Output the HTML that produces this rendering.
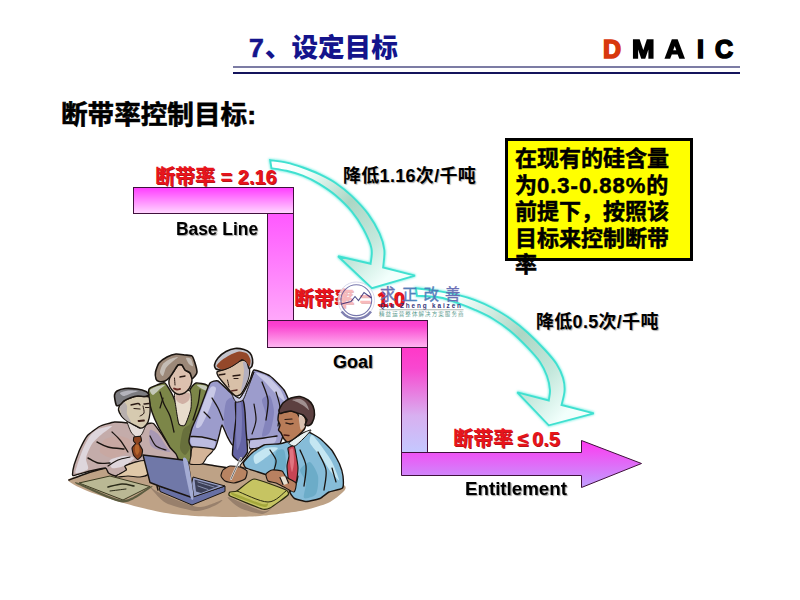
<!DOCTYPE html>
<html lang="zh">
<head>
<meta charset="utf-8">
<title>7、设定目标</title>
<style>
html,body{margin:0;padding:0;background:#fff;}
body{width:800px;height:600px;position:relative;overflow:hidden;font-family:"Liberation Sans","Noto Sans CJK SC",sans-serif;}
.t{position:absolute;white-space:nowrap;line-height:1;font-weight:bold;}
#title{left:249px;top:35px;font-size:26.6px;color:#14148c;font-weight:900;}
.dm{position:absolute;top:37px;font-size:25px;line-height:1;font-weight:bold;color:#000;-webkit-text-stroke:1.6px #000;transform-origin:0 0;}
.dm.d{color:#d8380c;-webkit-text-stroke-color:#d8380c;}
.hl1{position:absolute;left:233px;top:66px;width:507px;height:2px;background:#7c7ca4;}
.hl2{position:absolute;left:233px;top:72px;width:507px;height:2px;background:#14145c;}
#sub{left:61px;top:101.5px;font-size:26.6px;color:#000;font-weight:700;-webkit-text-stroke:0.6px #000;}
.red{color:#e8141c;font-size:20px;text-shadow:1px 1px 0 #b81418;}
.blk{color:#000;font-size:18px;letter-spacing:0.3px;text-shadow:1px 1px 1px #b0b0b0;}
.en{color:#000;font-size:18px;text-shadow:1px 1px 1px #a0a0a0;transform-origin:0 0;}
#note{position:absolute;left:505px;top:138px;width:187.5px;height:123.3px;background:#ffff00;border:3px solid #000;box-sizing:border-box;}
#notetxt{position:absolute;left:515px;top:146.3px;width:180px;font-size:22px;line-height:26.5px;font-weight:700;-webkit-text-stroke:0.5px #000;color:#000;white-space:nowrap;}
#notetxt i{font-style:normal;letter-spacing:1px;}
svg{position:absolute;left:0;top:0;}
</style>
</head>
<body>
<div class="t" id="title"><span style="-webkit-text-stroke:0.7px #14148c;letter-spacing:1px">7</span>、设定目标</div>
<span class="dm d" style="left:603px">D</span><span class="dm" style="left:632px;transform:scaleX(1.08)">M</span><span class="dm" style="left:665px;transform:scaleX(1.08)">A</span><span class="dm" style="left:697px">I</span><span class="dm" style="left:715px">C</span>
<div class="hl1"></div><div class="hl2"></div>
<div class="t" id="sub">断带率控制目标:</div>

<svg width="800" height="600" viewBox="0 0 800 600">
<defs>
<linearGradient id="g1" x1="0" y1="0" x2="0" y2="1"><stop offset="0" stop-color="#ff3cff"/><stop offset="1" stop-color="#ffd8ff"/></linearGradient>
<linearGradient id="g2" x1="0" y1="0" x2="0" y2="1"><stop offset="0" stop-color="#ff58ff"/><stop offset="1" stop-color="#ffa8fa"/></linearGradient>
<linearGradient id="g3" x1="0" y1="0" x2="0" y2="1"><stop offset="0" stop-color="#fa38cc"/><stop offset="0.2" stop-color="#fa44d0"/><stop offset="1" stop-color="#ffb8f2"/></linearGradient>
<linearGradient id="g4" x1="0" y1="0" x2="0" y2="1"><stop offset="0" stop-color="#ff38c8"/><stop offset="0.2" stop-color="#f848d0"/><stop offset="0.65" stop-color="#d8b0f0"/><stop offset="1" stop-color="#c4c8ff"/></linearGradient>
<linearGradient id="g5" x1="0" y1="0" x2="0" y2="1"><stop offset="0" stop-color="#ff38f0"/><stop offset="1" stop-color="#c0a0ff"/></linearGradient>
<linearGradient id="ga1" gradientUnits="userSpaceOnUse" x1="272" y1="164" x2="385" y2="280"><stop offset="0" stop-color="#ffffff"/><stop offset="0.18" stop-color="#f4fffc"/><stop offset="0.5" stop-color="#acd6c4"/><stop offset="0.78" stop-color="#c4e8dc"/><stop offset="1" stop-color="#f2fffc"/></linearGradient>
<linearGradient id="ga2" gradientUnits="userSpaceOnUse" x1="418" y1="292" x2="562" y2="418"><stop offset="0" stop-color="#ffffff"/><stop offset="0.18" stop-color="#f4fffc"/><stop offset="0.55" stop-color="#acd6c4"/><stop offset="0.8" stop-color="#c4e8dc"/><stop offset="1" stop-color="#f2fffc"/></linearGradient>
<filter id="glow" x="-10%" y="-10%" width="120%" height="120%"><feGaussianBlur stdDeviation="1.3"/></filter>
</defs>
<g stroke="#40103c" stroke-width="1">
<rect x="267.5" y="213.5" width="26" height="107" fill="url(#g2)"/>
<rect x="133.5" y="187.5" width="160" height="26" fill="url(#g1)"/>
<rect x="401.5" y="347.5" width="26" height="105" fill="url(#g4)"/>
<rect x="267.5" y="320.5" width="160" height="27" fill="url(#g3)"/>
<path d="M401.500 452.500H581.500V440.500L641.500 463.500L581.500 487.500V475.500H401.500Z" fill="url(#g5)"/>
</g>
<g id="people" stroke-linejoin="round">
<path d="M68.0 480.0C68.0 478.0 80.2 475.5 85.0 474.0C89.8 472.5 99.1 469.5 106.0 468.0C112.9 466.5 132.0 463.0 140.0 462.0C148.0 461.0 163.5 459.9 170.0 460.0C176.5 460.1 185.1 462.1 192.0 463.0C198.9 463.9 217.8 466.1 225.0 467.0C232.2 467.9 241.9 469.1 250.0 470.0C258.1 470.9 280.0 473.0 290.0 474.0C300.0 475.0 323.1 476.5 330.0 478.0C336.9 479.5 343.4 484.2 345.0 486.0C346.6 487.8 345.1 489.9 343.0 492.0C340.9 494.1 333.4 500.6 328.0 503.0C322.6 505.4 308.5 509.4 300.0 511.0C291.5 512.6 268.8 515.2 260.0 516.0C251.2 516.8 238.1 517.0 230.0 517.0C221.9 517.0 203.8 516.6 195.0 516.0C186.2 515.4 169.4 513.8 160.0 512.0C150.6 510.2 129.4 504.8 120.0 502.0C110.6 499.2 91.5 492.8 85.0 490.0C78.5 487.2 68.0 482.0 68.0 480.0Z" fill="#bea286"/>
<path d="M69.0 480.0C72.2 478.8 81.8 475.0 88.0 473.0C94.2 471.0 103.0 468.8 106.0 468.0" fill="none" stroke="#1a1410" stroke-width="1.5" stroke-linecap="round"/>
<path d="M193.0 462.5C195.8 462.9 204.5 464.2 210.0 465.0C215.5 465.8 223.3 467.1 226.0 467.5" fill="none" stroke="#1a1410" stroke-width="1.5" stroke-linecap="round"/>
<path d="M150.0 487.0C149.2 485.8 154.0 490.5 160.0 493.0C166.0 495.5 190.2 506.1 198.0 507.0C205.8 507.9 220.0 500.1 222.0 500.0C224.0 499.9 217.2 504.6 214.0 506.0C210.8 507.4 202.0 511.4 196.0 511.0C190.0 510.6 171.8 506.0 166.0 503.0C160.2 500.0 150.8 488.2 150.0 487.0Z" fill="#98806c"/>
<path d="M228.0 497.0C230.8 497.4 256.5 509.6 262.0 511.0C267.5 512.4 272.0 507.6 272.0 508.0C272.0 508.4 266.0 514.0 262.0 514.0C258.0 514.0 244.2 510.1 240.0 508.0C235.8 505.9 225.2 496.6 228.0 497.0Z" fill="#98806c"/>
<path d="M149.0 389.0C149.8 387.6 155.4 385.6 157.0 385.0C158.6 384.4 163.4 381.9 165.0 383.0C166.6 384.1 171.8 393.5 173.0 396.0C174.2 398.5 176.4 405.2 177.0 408.0C177.6 410.8 178.2 422.4 179.0 424.0C179.8 425.6 183.9 425.8 185.0 424.0C186.1 422.2 189.5 409.4 190.0 406.0C190.5 402.6 189.4 392.3 190.0 390.0C190.6 387.7 194.3 383.5 196.0 383.0C197.7 382.5 205.6 384.1 207.0 385.0C208.4 385.9 210.2 390.3 210.0 392.0C209.8 393.7 206.2 399.2 205.0 402.0C203.8 404.8 199.3 416.6 198.0 420.0C196.7 423.4 192.7 433.0 192.0 436.0C191.3 439.0 191.2 447.3 191.0 450.0C190.8 452.7 191.5 461.9 190.0 463.0C188.5 464.1 178.2 462.9 176.0 461.0C173.8 459.1 169.8 447.5 168.0 444.0C166.2 440.5 159.6 429.2 158.0 426.0C156.4 422.8 152.9 414.7 152.0 412.0C151.1 409.3 149.3 401.3 149.0 399.0C148.7 396.7 148.2 390.4 149.0 389.0Z" fill="#7c8648" stroke="#1a1410" stroke-width="1.4"/>
<path d="M150.0 390.0C150.6 388.9 156.1 386.6 158.0 386.0C159.9 385.4 164.8 384.6 165.0 385.0C165.2 385.4 161.5 387.8 160.0 389.0C158.5 390.2 154.2 394.9 153.0 395.0C151.8 395.1 149.4 391.1 150.0 390.0Z" fill="#c4c8b8"/>
<path d="M197.0 385.0C197.5 384.6 204.6 385.2 206.0 386.0C207.4 386.8 208.5 390.6 208.0 391.0C207.5 391.4 203.4 389.8 202.0 389.0C200.6 388.2 196.5 385.4 197.0 385.0Z" fill="#c4c8b8"/>
<path d="M183.0 430.0C184.2 427.0 188.4 426.2 190.0 424.0C191.6 421.8 195.6 411.0 196.0 412.0C196.4 413.0 193.8 427.5 193.0 432.0C192.2 436.5 191.0 445.1 190.0 448.0C189.0 450.9 186.2 455.0 185.0 455.0C183.8 455.0 180.2 451.1 180.0 448.0C179.8 444.9 181.8 433.0 183.0 430.0Z" fill="#68703c"/>
<path d="M175.0 393.0C176.4 391.3 188.4 389.5 190.0 391.0C191.6 392.5 191.5 404.6 191.0 408.0C190.5 411.4 186.2 423.4 185.0 425.0C183.8 426.6 179.9 425.7 179.0 424.0C178.1 422.3 176.4 411.1 176.0 408.0C175.6 404.9 173.6 394.7 175.0 393.0Z" fill="#e8dccc" stroke="#1a1410" stroke-width="1"/>
<path d="M176.0 395.0C177.5 394.0 187.4 392.4 189.0 393.0C190.6 393.6 189.8 398.6 189.0 400.0C188.2 401.4 184.5 403.9 183.0 404.0C181.5 404.1 177.9 402.1 177.0 401.0C176.1 399.9 174.5 396.0 176.0 395.0Z" fill="#d0b0a4"/>
<path d="M170.0 377.0C170.5 375.7 173.2 372.2 174.0 371.0C174.8 369.8 177.2 365.6 178.0 365.0C178.8 364.4 181.3 364.5 182.0 365.0C182.7 365.5 184.2 369.2 185.0 370.0C185.8 370.8 189.3 372.2 190.0 373.0C190.7 373.8 191.9 376.8 192.0 378.0C192.1 379.2 191.5 383.7 191.0 385.0C190.5 386.3 187.9 390.1 187.0 391.0C186.1 391.9 183.0 393.7 182.0 394.0C181.0 394.3 178.0 394.4 177.0 394.0C176.0 393.6 172.8 391.0 172.0 390.0C171.2 389.0 169.2 385.3 169.0 384.0C168.8 382.7 169.5 378.3 170.0 377.0Z" fill="#dcc0ae" stroke="#1a1410" stroke-width="1.4"/>
<path d="M156.0 379.0C155.7 378.1 155.2 373.6 155.5 372.0C155.8 370.4 157.8 364.5 159.0 363.0C160.2 361.5 165.3 357.9 167.0 357.0C168.7 356.1 174.2 354.2 176.0 354.0C177.8 353.8 183.4 354.8 185.0 355.0C186.6 355.2 191.0 355.2 192.0 356.0C193.0 356.8 194.5 361.4 195.0 363.0C195.5 364.6 197.0 370.7 197.0 372.0C197.0 373.3 195.5 375.4 195.0 376.0C194.5 376.6 192.5 378.8 192.0 378.5C191.5 378.2 190.7 373.9 190.0 373.0C189.3 372.1 185.8 370.8 185.0 370.0C184.2 369.2 182.7 365.5 182.0 365.0C181.3 364.5 178.8 364.4 178.0 365.0C177.2 365.6 174.8 369.8 174.0 371.0C173.2 372.2 170.9 376.0 170.0 377.0C169.1 378.0 166.1 380.6 165.0 381.0C163.9 381.4 159.9 381.7 159.0 381.5C158.1 381.3 156.3 379.9 156.0 379.0Z" fill="#9c8878" stroke="#1a1410" stroke-width="1.6"/>
<path d="M160.0 372.0C160.0 370.5 161.8 365.6 163.0 364.0C164.2 362.4 168.1 359.9 170.0 359.0C171.9 358.1 177.8 356.6 178.0 357.0C178.2 357.4 173.5 360.6 172.0 362.0C170.5 363.4 167.1 366.2 166.0 368.0C164.9 369.8 163.8 375.5 163.0 376.0C162.2 376.5 160.0 373.5 160.0 372.0Z" fill="#c4bcb4"/>
<path d="M186.0 358.0C186.2 357.4 190.1 358.0 191.0 359.0C191.9 360.0 193.2 365.4 193.0 366.0C192.8 366.6 189.9 365.0 189.0 364.0C188.1 363.0 185.8 358.6 186.0 358.0Z" fill="#c4bcb4"/>
<path d="M174.5 378.0C174.6 379.2 174.9 383.8 175.0 385.0" fill="none" stroke="#2a1a14" stroke-width="1" stroke-linecap="round"/>
<path d="M180.0 377.0C180.8 376.8 184.2 376.2 185.0 376.0" fill="none" stroke="#2a1a14" stroke-width="1.4" stroke-linecap="round"/>
<path d="M174.0 388.5C174.5 388.7 176.0 389.4 177.0 389.5C178.0 389.6 179.5 389.1 180.0 389.0" fill="none" stroke="#6a2a24" stroke-width="1.8" stroke-linecap="round"/>
<path d="M160.0 392.0C160.7 394.0 162.3 400.0 164.0 404.0C165.7 408.0 168.3 411.3 170.0 416.0C171.7 420.7 173.3 429.3 174.0 432.0" fill="none" stroke="#1a1410" stroke-width="1.3" stroke-linecap="round"/>
<path d="M200.0 390.0C199.7 392.3 199.2 399.0 198.0 404.0C196.8 409.0 193.8 417.3 193.0 420.0" fill="none" stroke="#1a1410" stroke-width="1.3" stroke-linecap="round"/>
<path d="M163.0 398.0C162.5 399.7 160.5 406.3 160.0 408.0" fill="none" stroke="#1a1410" stroke-width="1.2" stroke-linecap="round"/>
<path d="M218.0 381.0C216.2 380.1 211.2 381.6 210.0 383.0C208.8 384.4 205.0 395.4 204.0 398.0C203.0 400.6 199.0 411.5 198.0 414.0C197.0 416.5 192.8 425.8 192.0 428.0C191.2 430.2 189.0 439.4 189.0 441.0C189.0 442.6 189.9 446.3 192.0 447.0C194.1 447.7 211.8 450.4 214.0 449.5C216.2 448.6 218.3 438.0 219.0 436.0C219.7 434.0 221.3 425.0 222.0 425.0C222.7 425.0 226.1 434.3 227.0 436.0C227.9 437.7 231.4 444.7 232.5 445.0C233.6 445.3 238.6 440.4 240.0 440.0C241.4 439.6 248.1 439.2 249.0 440.0C249.9 440.8 248.5 448.5 250.5 449.0C252.5 449.5 270.6 446.2 273.0 446.0C275.4 445.8 278.2 446.8 279.0 446.0C279.8 445.2 282.4 437.5 283.0 436.0C283.6 434.5 285.5 429.8 286.0 428.0C286.5 426.2 288.7 416.0 289.0 414.0C289.3 412.0 290.4 406.0 290.0 404.0C289.6 402.0 285.7 392.3 284.0 390.0C282.3 387.7 272.5 377.7 270.0 376.0C267.5 374.3 255.7 369.7 254.0 370.0C252.3 370.3 251.2 377.7 250.0 380.0C248.8 382.3 241.5 396.8 240.0 398.0C238.5 399.2 233.8 395.4 232.0 394.0C230.2 392.6 219.8 381.9 218.0 381.0Z" fill="#9c9ccc" stroke="#1a1410" stroke-width="1.4"/>
<path d="M256.0 373.0C256.2 372.2 265.0 375.0 268.0 377.0C271.0 379.0 277.9 386.0 280.0 389.0C282.1 392.0 285.4 400.2 285.0 401.0C284.6 401.8 279.4 397.2 277.0 395.0C274.6 392.8 268.6 385.8 266.0 383.0C263.4 380.2 255.8 373.8 256.0 373.0Z" fill="#c8c8e6"/>
<path d="M205.0 399.0C206.9 394.1 209.6 388.2 211.0 387.0C212.4 385.8 216.2 386.1 216.0 389.0C215.8 391.9 210.9 405.4 209.0 410.0C207.1 414.6 202.6 424.0 201.0 426.0C199.4 428.0 195.5 429.4 196.0 426.0C196.5 422.6 203.1 403.9 205.0 399.0Z" fill="#c8c8e6"/>
<path d="M191.0 438.0C191.9 436.8 197.1 435.8 200.0 436.0C202.9 436.2 212.4 438.5 214.0 440.0C215.6 441.5 215.6 447.2 213.0 448.0C210.4 448.8 195.8 447.2 193.0 446.0C190.2 444.8 190.1 439.2 191.0 438.0Z" fill="#bcbce0"/>
<path d="M251.0 441.0C252.6 439.8 260.9 438.5 264.0 438.0C267.1 437.5 274.9 436.2 276.0 437.0C277.1 437.8 276.1 442.6 273.0 444.0C269.9 445.4 253.8 448.4 251.0 448.0C248.2 447.6 249.4 442.2 251.0 441.0Z" fill="#bcbce0"/>
<path d="M226.0 402.0C227.2 398.8 232.8 395.8 234.0 398.0C235.2 400.2 236.2 414.8 236.0 420.0C235.8 425.2 233.5 439.5 232.0 440.0C230.5 440.5 224.8 428.8 224.0 424.0C223.2 419.2 224.8 405.2 226.0 402.0Z" fill="#8484bc"/>
<path d="M262.0 400.0C262.5 397.5 268.5 394.5 270.0 396.0C271.5 397.5 274.0 407.5 274.0 412.0C274.0 416.5 271.5 429.0 270.0 432.0C268.5 435.0 262.5 438.0 262.0 436.0C261.5 434.0 266.0 420.5 266.0 416.0C266.0 411.5 261.5 402.5 262.0 400.0Z" fill="#8484bc"/>
<path d="M191.0 436.5C192.8 436.6 197.8 436.3 202.0 437.0C206.2 437.7 213.7 439.9 216.0 440.5" fill="none" stroke="#1a1410" stroke-width="1.4" stroke-linecap="round"/>
<path d="M250.0 439.5C252.3 439.2 259.5 438.6 264.0 438.0C268.5 437.4 274.8 436.3 277.0 436.0" fill="none" stroke="#1a1410" stroke-width="1.4" stroke-linecap="round"/>
<path d="M212.0 398.0C213.0 399.7 216.2 404.3 218.0 408.0C219.8 411.7 222.2 418.0 223.0 420.0" fill="none" stroke="#1a1410" stroke-width="1.3" stroke-linecap="round"/>
<path d="M262.0 382.0C263.0 385.0 267.3 393.7 268.0 400.0C268.7 406.3 266.3 416.7 266.0 420.0" fill="none" stroke="#1a1410" stroke-width="1.3" stroke-linecap="round"/>
<path d="M276.0 392.0C276.7 394.7 279.7 402.3 280.0 408.0C280.3 413.7 278.3 423.0 278.0 426.0" fill="none" stroke="#1a1410" stroke-width="1.2" stroke-linecap="round"/>
<path d="M204.0 412.0C205.0 413.0 209.0 417.0 210.0 418.0" fill="none" stroke="#1a1410" stroke-width="1.2" stroke-linecap="round"/>
<path d="M254.0 404.0C254.3 406.7 256.3 415.0 256.0 420.0C255.7 425.0 252.7 431.7 252.0 434.0" fill="none" stroke="#1a1410" stroke-width="1.2" stroke-linecap="round"/>
<path d="M193.0 447.0C195.2 446.4 211.6 448.5 213.0 449.5C214.4 450.5 208.1 455.6 207.0 457.0C205.9 458.4 203.7 463.3 202.0 464.0C200.3 464.7 191.1 464.8 190.0 464.0C188.9 463.2 190.7 457.7 191.0 456.0C191.3 454.3 190.8 447.6 193.0 447.0Z" fill="#d4b498" stroke="#1a1410" stroke-width="1.1"/>
<path d="M252.0 449.5C254.6 448.3 271.0 445.1 272.0 446.0C273.0 446.9 264.4 455.8 262.0 458.0C259.6 460.2 250.2 467.2 248.0 468.0C245.8 468.8 240.2 467.0 240.0 466.0C239.8 465.0 244.8 459.6 246.0 458.0C247.2 456.4 249.4 450.7 252.0 449.5Z" fill="#d4b498" stroke="#1a1410" stroke-width="1.1"/>
<path d="M235.5 402.0C236.0 400.8 242.3 399.8 243.0 400.5C243.7 401.2 244.8 409.9 245.0 412.0C245.2 414.1 245.8 427.1 246.0 430.0C246.2 432.9 247.9 449.8 247.5 452.0C247.1 454.2 241.1 461.3 240.0 461.5C238.9 461.7 232.9 456.8 232.5 455.0C232.1 453.2 233.8 438.6 234.0 436.0C234.2 433.4 235.9 420.4 236.0 418.0C236.1 415.6 235.0 403.2 235.5 402.0Z" fill="#6464a4" stroke="#1a1410" stroke-width="1.4"/>
<path d="M237.0 404.0C237.6 400.6 240.4 401.0 241.0 403.0C241.6 405.0 242.0 415.4 242.0 420.0C242.0 424.6 241.6 436.2 241.0 440.0C240.4 443.8 237.6 451.2 237.0 450.0C236.4 448.8 236.0 435.8 236.0 430.0C236.0 424.2 236.4 407.4 237.0 404.0Z" fill="#7c7cb8"/>
<path d="M232.0 394.0C232.4 393.6 238.2 399.3 240.0 398.0C241.8 396.7 248.6 383.6 250.0 381.0C251.4 378.4 254.2 371.3 254.0 372.0C253.8 372.7 249.1 385.2 248.0 388.0C246.9 390.8 244.2 398.6 243.0 400.0C241.8 401.4 237.1 402.6 236.0 402.0C234.9 401.4 231.6 394.4 232.0 394.0Z" fill="#c8c8e4" stroke="#1a1410" stroke-width="1"/>
<path d="M217.0 372.0C217.4 371.4 220.7 370.5 222.0 370.0C223.3 369.5 228.4 367.8 230.0 367.0C231.6 366.2 236.7 362.7 238.0 362.0C239.3 361.3 242.1 360.0 243.0 360.0C243.9 360.0 246.3 361.2 247.0 362.0C247.7 362.8 249.3 366.6 249.5 368.0C249.7 369.4 249.3 374.3 249.0 376.0C248.7 377.7 246.8 383.2 246.0 385.0C245.2 386.8 242.0 392.9 241.0 394.0C240.0 395.1 237.0 396.2 236.0 396.0C235.0 395.8 232.0 393.0 231.0 392.0C230.0 391.0 227.0 387.2 226.0 386.0C225.0 384.8 221.8 381.0 221.0 380.0C220.2 379.0 218.4 376.8 218.0 376.0C217.6 375.2 216.6 372.6 217.0 372.0Z" fill="#d8c0a8" stroke="#1a1410" stroke-width="1.4"/>
<path d="M243.0 362.0C243.4 361.1 246.2 362.1 247.0 363.0C247.8 363.9 248.8 367.2 249.0 369.0C249.2 370.8 249.0 374.9 248.5 377.0C248.0 379.1 245.9 384.1 245.0 386.0C244.1 387.9 241.2 392.8 241.0 392.0C240.8 391.2 242.6 382.8 243.0 380.0C243.4 377.2 244.0 372.2 244.0 370.0C244.0 367.8 242.6 362.9 243.0 362.0Z" fill="#b4b0c0"/>
<path d="M214.5 365.0C214.7 363.9 216.8 359.4 218.0 358.0C219.2 356.6 224.3 352.4 226.0 351.5C227.7 350.6 233.2 348.7 235.0 348.5C236.8 348.3 242.5 349.1 244.0 349.5C245.5 349.9 249.2 352.1 250.0 353.0C250.8 353.9 252.3 357.7 252.5 359.0C252.7 360.3 252.3 365.1 252.0 366.0C251.7 366.9 249.5 368.9 249.0 368.5C248.5 368.1 247.7 362.9 247.0 362.0C246.3 361.1 242.9 359.0 242.0 359.0C241.1 359.0 239.2 361.2 238.0 362.0C236.8 362.8 231.6 366.2 230.0 367.0C228.4 367.8 223.4 369.8 222.0 370.0C220.6 370.2 216.8 369.5 216.0 369.0C215.2 368.5 214.3 366.1 214.5 365.0Z" fill="#c4c4cc" stroke="#1a1410" stroke-width="1.6"/>
<path d="M216.5 366.0C216.5 364.8 220.3 361.4 222.0 360.0C223.7 358.6 227.9 356.1 230.0 355.0C232.1 353.9 236.9 351.7 239.0 351.5C241.1 351.3 245.6 352.4 247.0 353.5C248.4 354.6 250.2 358.4 250.5 360.0C250.8 361.6 250.1 366.3 249.5 366.5C248.9 366.7 246.9 362.4 246.0 361.5C245.1 360.6 243.0 358.9 242.0 359.0C241.0 359.1 239.5 361.0 238.0 362.0C236.5 363.0 232.0 366.1 230.0 367.0C228.0 367.9 223.7 369.6 222.0 369.5C220.3 369.4 216.5 367.2 216.5 366.0Z" fill="#94482a"/>
<path d="M219.0 375.0C220.0 374.8 224.0 374.2 225.0 374.0" fill="none" stroke="#2a1a14" stroke-width="1.3" stroke-linecap="round"/>
<path d="M233.0 376.0C234.2 375.8 238.8 375.2 240.0 375.0" fill="none" stroke="#2a1a14" stroke-width="1.3" stroke-linecap="round"/>
<path d="M234.0 378.5C234.7 378.5 237.3 378.5 238.0 378.5" fill="none" stroke="#2a1a14" stroke-width="1.2" stroke-linecap="round"/>
<path d="M227.5 380.0C227.8 381.2 228.8 385.8 229.0 387.0" fill="none" stroke="#2a1a14" stroke-width="1" stroke-linecap="round"/>
<path d="M231.5 391.0C232.4 390.8 236.1 390.2 237.0 390.0" fill="none" stroke="#5a2a24" stroke-width="1.5" stroke-linecap="round"/>
<path d="M114.5 422.0C112.5 422.2 101.4 425.5 99.5 426.5C97.6 427.5 88.9 433.9 87.5 435.5C86.1 437.1 81.0 446.9 80.0 449.0C79.0 451.1 74.5 463.7 74.0 465.5C73.5 467.3 72.5 473.8 72.5 474.5C72.5 475.2 72.8 475.8 74.0 475.5C75.2 475.2 87.8 471.5 90.0 471.0C92.2 470.5 104.2 467.9 105.5 468.0C106.8 468.1 107.8 472.4 108.5 473.0C109.2 473.6 114.7 476.2 116.0 476.0C117.3 475.8 125.9 470.7 126.5 470.0C127.1 469.3 124.3 466.6 125.0 466.0C125.7 465.4 134.5 462.3 136.0 462.0C137.5 461.7 144.3 462.0 146.0 462.0C147.7 462.0 157.7 462.1 160.0 462.0C162.3 461.9 176.9 461.6 178.0 461.0C179.1 460.4 176.6 455.0 176.0 454.0C175.4 453.0 171.0 448.8 170.0 447.5C169.0 446.2 163.7 437.2 162.5 435.5C161.3 433.8 154.6 424.3 153.5 423.5C152.4 422.7 148.0 423.6 147.0 424.0C146.0 424.4 141.4 429.1 140.0 429.0C138.6 428.9 129.8 423.5 128.0 423.0C126.2 422.5 116.5 421.8 114.5 422.0Z" fill="#c4acaa" stroke="#1a1410" stroke-width="1.4"/>
<path d="M98.0 429.0C95.2 430.2 91.9 433.5 90.0 436.0C88.1 438.5 84.6 445.2 83.0 449.0C81.4 452.8 77.9 463.0 77.0 466.0C76.1 469.0 74.6 472.6 76.0 473.0C77.4 473.4 86.8 470.9 88.0 469.0C89.2 467.1 85.5 461.1 86.0 458.0C86.5 454.9 90.0 447.0 92.0 444.0C94.0 441.0 99.5 436.2 102.0 434.0C104.5 431.8 112.5 426.6 112.0 426.0C111.5 425.4 100.8 427.8 98.0 429.0Z" fill="#ded6dc"/>
<path d="M104.0 440.0C106.2 438.0 114.8 436.0 118.0 436.0C121.2 436.0 128.8 438.0 130.0 440.0C131.2 442.0 130.2 449.8 128.0 452.0C125.8 454.2 115.5 458.0 112.0 458.0C108.5 458.0 101.0 454.2 100.0 452.0C99.0 449.8 101.8 442.0 104.0 440.0Z" fill="#c8a8a2"/>
<path d="M150.0 430.0C151.0 428.8 156.0 432.0 158.0 434.0C160.0 436.0 164.5 443.8 166.0 446.0C167.5 448.2 171.2 451.6 170.0 452.0C168.8 452.4 158.5 450.0 156.0 449.0C153.5 448.0 150.8 446.4 150.0 444.0C149.2 441.6 149.0 431.2 150.0 430.0Z" fill="#a898b4"/>
<path d="M110.0 460.0C111.5 458.5 121.0 456.2 124.0 456.0C127.0 455.8 134.0 456.8 134.0 458.0C134.0 459.2 126.8 464.8 124.0 466.0C121.2 467.2 113.8 468.8 112.0 468.0C110.2 467.2 108.5 461.5 110.0 460.0Z" fill="#ded6dc"/>
<path d="M97.0 442.0C98.8 442.8 103.5 445.8 108.0 447.0C112.5 448.2 121.3 448.7 124.0 449.0" fill="none" stroke="#1a1410" stroke-width="1.4" stroke-linecap="round"/>
<path d="M88.0 458.0C89.7 458.8 94.3 462.2 98.0 463.0C101.7 463.8 108.0 463.0 110.0 463.0" fill="none" stroke="#1a1410" stroke-width="1.4" stroke-linecap="round"/>
<path d="M112.0 432.0C113.3 433.3 117.3 436.7 120.0 440.0C122.7 443.3 126.7 450.0 128.0 452.0" fill="none" stroke="#1a1410" stroke-width="1.2" stroke-linecap="round"/>
<path d="M150.0 436.0C151.0 437.7 153.3 443.7 156.0 446.0C158.7 448.3 164.3 449.3 166.0 450.0" fill="none" stroke="#1a1410" stroke-width="1.2" stroke-linecap="round"/>
<path d="M108.0 466.0C109.7 465.0 114.3 461.5 118.0 460.0C121.7 458.5 128.0 457.5 130.0 457.0" fill="none" stroke="#1a1410" stroke-width="1.2" stroke-linecap="round"/>
<path d="M125.0 466.0C126.0 465.2 133.9 462.5 136.0 462.0C138.1 461.5 144.8 459.8 146.0 461.0C147.2 462.2 148.6 472.4 148.0 474.0C147.4 475.6 142.0 476.8 140.0 477.0C138.0 477.2 130.2 476.0 128.0 476.0C125.8 476.0 119.2 477.0 118.0 477.0C116.8 477.0 115.2 476.7 116.0 476.0C116.8 475.3 125.6 471.0 126.5 470.0C127.4 469.0 124.0 466.8 125.0 466.0Z" fill="#e0c8a8" stroke="#1a1410" stroke-width="1.1"/>
<path d="M127.0 421.0C127.3 420.3 132.7 424.3 134.0 425.0C135.3 425.7 138.8 428.1 140.0 428.0C141.2 427.9 145.8 423.4 146.0 424.0C146.2 424.6 142.9 432.6 142.0 434.0C141.1 435.4 138.1 438.2 137.0 438.0C135.9 437.8 132.0 433.7 131.0 432.0C130.0 430.3 126.7 421.7 127.0 421.0Z" fill="#e4dcd8" stroke="#1a1410" stroke-width="0.9"/>
<path d="M120.0 405.0C120.5 404.1 123.0 401.7 124.0 401.0C125.0 400.3 128.6 398.5 130.0 398.0C131.4 397.5 136.6 396.1 138.0 396.0C139.4 395.9 142.9 396.4 144.0 396.5C145.1 396.6 148.4 396.1 149.0 397.0C149.6 397.9 149.9 403.4 150.0 405.0C150.1 406.6 150.2 411.3 150.0 413.0C149.8 414.7 148.6 420.6 148.0 422.0C147.4 423.4 144.8 426.4 144.0 427.0C143.2 427.6 141.0 428.2 140.0 428.0C139.0 427.8 135.3 425.7 134.0 425.0C132.7 424.3 128.2 421.9 127.0 421.0C125.8 420.1 122.3 417.1 121.5 416.0C120.7 414.9 118.7 411.1 118.5 410.0C118.3 408.9 119.5 405.9 120.0 405.0Z" fill="#d6cab0" stroke="#1a1410" stroke-width="1.4"/>
<path d="M120.0 406.0C120.3 404.4 123.1 402.0 124.0 402.0C124.9 402.0 126.6 404.5 127.0 406.0C127.4 407.5 126.5 412.0 127.0 414.0C127.5 416.0 131.1 421.2 131.0 422.0C130.9 422.8 127.2 420.9 126.0 420.0C124.8 419.1 122.2 416.8 121.5 415.0C120.8 413.2 119.7 407.6 120.0 406.0Z" fill="#b8b0ae"/>
<path d="M114.5 395.0C114.7 394.1 116.0 391.6 117.0 391.0C118.0 390.4 123.0 388.7 125.0 388.5C127.0 388.3 134.9 388.7 137.0 389.0C139.1 389.3 144.8 390.9 146.0 391.5C147.2 392.1 149.2 394.5 149.0 395.0C148.8 395.5 145.1 396.4 144.0 396.5C142.9 396.6 139.4 395.9 138.0 396.0C136.6 396.1 131.4 397.5 130.0 398.0C128.6 398.5 125.0 400.3 124.0 401.0C123.0 401.7 120.8 404.6 120.0 405.0C119.2 405.4 117.0 406.0 116.5 405.5C116.0 405.0 115.2 401.1 115.0 400.0C114.8 398.9 114.3 395.9 114.5 395.0Z" fill="#7c7c80" stroke="#1a1410" stroke-width="1.6"/>
<path d="M120.0 393.0C120.5 392.3 125.8 390.8 128.0 390.5C130.2 390.2 137.5 390.7 138.0 391.0C138.5 391.3 133.8 392.4 132.0 393.0C130.2 393.6 125.5 396.0 124.0 396.0C122.5 396.0 119.5 393.7 120.0 393.0Z" fill="#b4b4bc"/>
<path d="M131.0 405.0C132.2 404.8 136.5 403.5 138.0 403.5C139.5 403.5 139.7 404.8 140.0 405.0" fill="none" stroke="#2a1a14" stroke-width="1.3" stroke-linecap="round"/>
<path d="M144.0 404.0C144.8 403.9 148.2 403.6 149.0 403.5" fill="none" stroke="#2a1a14" stroke-width="1.3" stroke-linecap="round"/>
<path d="M134.0 408.5C135.0 408.6 139.0 408.9 140.0 409.0" fill="none" stroke="#2a1a14" stroke-width="1.2" stroke-linecap="round"/>
<path d="M145.5 407.5C146.1 407.5 148.4 407.5 149.0 407.5" fill="none" stroke="#2a1a14" stroke-width="1.2" stroke-linecap="round"/>
<path d="M143.0 406.0C143.2 407.2 144.5 411.3 144.0 413.0C143.5 414.7 140.7 415.5 140.0 416.0" fill="none" stroke="#2a1a14" stroke-width="1" stroke-linecap="round"/>
<path d="M138.5 421.0C139.4 420.9 143.1 420.6 144.0 420.5" fill="none" stroke="#3a1a14" stroke-width="1.8" stroke-linecap="round"/>
<path d="M134.0 437.0C134.5 436.7 140.0 436.2 140.5 436.5C141.0 436.8 141.6 440.5 141.5 441.0C141.4 441.5 138.9 442.9 139.0 443.5C139.1 444.1 142.3 449.1 142.5 450.0C142.7 450.9 141.9 455.3 141.5 456.0C141.1 456.7 138.1 459.6 137.5 459.5C136.9 459.4 133.9 455.8 133.5 455.0C133.1 454.2 131.9 448.8 132.0 448.0C132.1 447.2 135.4 444.0 135.5 443.5C135.6 443.0 133.6 441.5 133.5 441.0C133.4 440.5 133.5 437.3 134.0 437.0Z" fill="#8c4420" stroke="#1a1410" stroke-width="1.1"/>
<path d="M135.5 445.0C135.9 444.2 138.0 444.2 138.5 445.0C139.0 445.8 139.7 449.8 139.5 451.0C139.3 452.2 137.6 455.0 137.0 455.0C136.4 455.0 135.2 452.2 135.0 451.0C134.8 449.8 135.1 445.8 135.5 445.0Z" fill="#b4642c"/>
<path d="M286.0 442.0C287.5 441.3 294.2 436.8 296.0 436.0C297.8 435.2 306.0 431.8 308.0 432.0C310.0 432.2 318.0 437.0 320.0 438.5C322.0 440.0 330.4 448.4 332.0 450.5C333.6 452.6 338.6 461.9 339.5 464.0C340.4 466.1 342.8 474.0 343.0 476.0C343.2 478.0 343.7 486.7 342.5 488.0C341.3 489.3 330.9 491.1 329.0 492.0C327.1 492.9 321.9 497.7 320.0 498.5C318.1 499.3 308.6 501.5 306.5 501.5C304.4 501.5 295.9 499.2 294.5 498.5C293.1 497.8 290.5 493.7 290.0 492.5C289.5 491.3 288.5 485.0 288.0 484.0C287.5 483.0 285.5 480.7 284.0 480.0C282.5 479.3 272.2 476.7 270.0 476.0C267.8 475.3 260.0 472.7 258.0 472.0C256.0 471.3 247.2 468.8 246.0 468.0C244.8 467.2 243.0 463.8 243.5 462.5C244.0 461.2 250.3 454.5 252.0 453.0C253.7 451.5 261.8 445.8 264.0 445.0C266.2 444.2 276.2 444.2 278.0 444.0C279.8 443.8 284.5 442.7 286.0 442.0Z" fill="#86bcd8" stroke="#1a1410" stroke-width="1.4"/>
<path d="M312.0 435.0C313.5 435.5 319.5 443.6 322.0 447.0C324.5 450.4 329.9 457.9 332.0 462.0C334.1 466.1 339.1 478.8 339.0 480.0C338.9 481.2 333.2 474.9 331.0 472.0C328.8 469.1 323.6 460.6 321.0 457.0C318.4 453.4 311.1 445.8 310.0 443.0C308.9 440.2 310.5 434.5 312.0 435.0Z" fill="#c4e6f2"/>
<path d="M254.0 456.0C255.2 454.0 263.0 449.0 266.0 448.0C269.0 447.0 277.8 447.0 278.0 448.0C278.2 449.0 270.8 454.0 268.0 456.0C265.2 458.0 257.8 464.0 256.0 464.0C254.2 464.0 252.8 458.0 254.0 456.0Z" fill="#c4e6f2"/>
<path d="M300.0 470.0C300.5 467.5 307.8 461.2 310.0 462.0C312.2 462.8 317.2 472.0 318.0 476.0C318.8 480.0 317.8 491.2 316.0 494.0C314.2 496.8 305.2 499.5 304.0 498.0C302.8 496.5 306.5 485.5 306.0 482.0C305.5 478.5 299.5 472.5 300.0 470.0Z" fill="#6cacc8"/>
<path d="M276.0 452.0C277.2 449.5 282.8 448.5 284.0 450.0C285.2 451.5 286.2 461.0 286.0 464.0C285.8 467.0 283.5 473.2 282.0 474.0C280.5 474.8 274.8 472.8 274.0 470.0C273.2 467.2 274.8 454.5 276.0 452.0Z" fill="#6cacc8"/>
<path d="M300.0 450.0C301.0 452.7 305.3 460.0 306.0 466.0C306.7 472.0 304.3 482.7 304.0 486.0" fill="none" stroke="#1a1410" stroke-width="1.3" stroke-linecap="round"/>
<path d="M318.0 452.0C319.3 455.0 325.0 463.7 326.0 470.0C327.0 476.3 324.3 486.7 324.0 490.0" fill="none" stroke="#1a1410" stroke-width="1.3" stroke-linecap="round"/>
<path d="M270.0 450.0C271.0 451.7 275.3 456.7 276.0 460.0C276.7 463.3 274.3 468.3 274.0 470.0" fill="none" stroke="#1a1410" stroke-width="1.2" stroke-linecap="round"/>
<path d="M290.0 492.0C291.0 490.7 294.7 486.7 296.0 484.0C297.3 481.3 297.7 477.3 298.0 476.0" fill="none" stroke="#1a1410" stroke-width="1.2" stroke-linecap="round"/>
<path d="M332.0 468.0C332.7 470.3 335.3 479.7 336.0 482.0" fill="none" stroke="#1a1410" stroke-width="1.2" stroke-linecap="round"/>
<path d="M288.0 448.0C288.5 447.0 293.2 445.4 294.0 446.0C294.8 446.6 295.6 451.8 296.0 454.0C296.4 456.2 298.0 465.2 298.0 468.0C298.0 470.8 296.9 480.6 296.0 482.0C295.1 483.4 289.9 483.6 289.0 482.0C288.1 480.4 287.0 468.6 287.0 466.0C287.0 463.4 288.9 457.8 289.0 456.0C289.1 454.2 287.5 449.0 288.0 448.0Z" fill="#c84454" stroke="#1a1410" stroke-width="1.1"/>
<path d="M290.0 450.0C290.4 448.4 292.5 447.5 293.0 449.0C293.5 450.5 294.1 459.1 294.0 462.0C293.9 464.9 292.5 472.0 292.0 472.0C291.5 472.0 290.2 464.8 290.0 462.0C289.8 459.2 289.6 451.6 290.0 450.0Z" fill="#e07480"/>
<path d="M289.0 443.0C289.8 441.7 300.8 434.3 303.0 433.0C305.2 431.7 310.8 429.6 311.0 430.0C311.2 430.4 306.6 435.4 305.0 437.0C303.4 438.6 296.6 445.4 295.0 446.0C293.4 446.6 288.2 444.3 289.0 443.0Z" fill="#e8f0f0" stroke="#1a1410" stroke-width="1"/>
<path d="M279.0 413.0C279.7 412.2 283.8 412.2 285.0 412.0C286.2 411.8 289.8 410.9 291.0 411.0C292.2 411.1 296.1 412.3 297.0 413.0C297.9 413.7 299.4 417.7 300.0 418.0C300.6 418.3 302.4 415.8 303.0 416.0C303.6 416.2 305.8 418.8 306.0 420.0C306.2 421.2 305.4 426.8 305.0 428.0C304.6 429.2 303.0 431.0 302.0 432.0C301.0 433.0 296.4 437.0 295.0 438.0C293.6 439.0 289.1 441.9 288.0 442.0C286.9 442.1 284.7 439.9 284.0 439.0C283.3 438.1 281.6 433.9 281.0 433.0C280.4 432.1 278.6 430.8 278.5 430.0C278.4 429.2 280.1 426.0 280.0 425.0C279.9 424.0 278.1 421.2 278.0 420.0C277.9 418.8 278.3 413.8 279.0 413.0Z" fill="#b87c58" stroke="#1a1410" stroke-width="1.4"/>
<path d="M299.0 416.0C299.6 415.1 303.2 415.8 304.0 417.0C304.8 418.2 305.4 424.4 305.0 426.0C304.6 427.6 301.7 430.2 301.0 430.0C300.3 429.8 299.8 425.8 299.5 424.0C299.2 422.2 298.4 416.9 299.0 416.0Z" fill="#d8c0b0"/>
<path d="M279.0 410.0C279.3 408.9 281.8 404.2 283.0 403.0C284.2 401.8 289.3 398.6 291.0 398.0C292.7 397.4 298.3 396.3 300.0 396.5C301.7 396.7 306.7 399.1 308.0 400.0C309.3 400.9 312.4 404.5 313.0 406.0C313.6 407.5 314.6 413.3 314.5 415.0C314.4 416.7 312.6 421.9 312.0 423.0C311.4 424.1 309.7 425.3 309.0 425.5C308.3 425.7 305.2 425.6 305.0 425.0C304.8 424.4 307.2 421.0 307.0 420.0C306.8 419.0 304.0 415.7 303.0 415.0C302.0 414.3 298.2 413.4 297.0 413.0C295.8 412.6 292.2 411.1 291.0 411.0C289.8 410.9 286.1 411.8 285.0 412.0C283.9 412.2 280.6 413.7 280.0 413.5C279.4 413.3 278.7 411.1 279.0 410.0Z" fill="#5c4040" stroke="#1a1410" stroke-width="1.6"/>
<path d="M292.0 400.0C292.4 399.6 298.2 398.6 300.0 399.0C301.8 399.4 304.9 401.6 306.0 403.0C307.1 404.4 309.2 409.6 309.0 410.0C308.8 410.4 305.5 407.0 304.0 406.0C302.5 405.0 298.5 402.8 297.0 402.0C295.5 401.2 291.6 400.4 292.0 400.0Z" fill="#a09090"/>
<path d="M286.0 423.0C286.7 423.2 288.8 423.9 290.0 424.0C291.2 424.1 292.5 423.6 293.0 423.5" fill="none" stroke="#2a1a14" stroke-width="1.4" stroke-linecap="round"/>
<path d="M285.0 419.5C286.2 419.4 290.8 419.1 292.0 419.0" fill="none" stroke="#2a1a14" stroke-width="1.2" stroke-linecap="round"/>
<path d="M284.0 435.0C284.8 435.1 288.2 435.4 289.0 435.5" fill="none" stroke="#4a1a14" stroke-width="1.3" stroke-linecap="round"/>
<path d="M223.0 470.0C223.9 469.0 228.3 466.3 230.0 466.0C231.7 465.7 238.3 466.5 240.0 467.0C241.7 467.5 246.5 469.8 247.0 471.0C247.5 472.2 246.3 477.8 245.0 479.0C243.7 480.2 236.0 482.8 234.0 483.0C232.0 483.2 226.3 481.7 225.0 481.0C223.7 480.3 221.2 477.1 221.0 476.0C220.8 474.9 222.1 471.0 223.0 470.0Z" fill="#b88462" stroke="#1a1410" stroke-width="1.1"/>
<path d="M231.0 479.0C231.8 477.2 234.3 471.5 236.0 468.0C237.7 464.5 240.2 459.7 241.0 458.0" fill="none" stroke="#e8e8e8" stroke-width="2" stroke-linecap="round"/>
<path d="M231.0 479.0C231.8 477.2 234.3 471.5 236.0 468.0C237.7 464.5 240.2 459.7 241.0 458.0" fill="none" stroke="#1a1410" stroke-width="0.6" stroke-linecap="round"/>
<path d="M266.0 474.0C266.4 472.9 270.4 470.3 272.0 470.0C273.6 469.7 280.6 470.3 282.0 471.0C283.4 471.7 284.6 475.8 286.0 477.0C287.4 478.2 295.2 481.5 296.0 483.0C296.8 484.5 295.2 491.6 294.0 492.0C292.8 492.4 285.8 487.9 284.0 487.0C282.2 486.1 277.6 483.6 276.0 483.0C274.4 482.4 269.0 481.9 268.0 481.0C267.0 480.1 265.6 475.1 266.0 474.0Z" fill="#b88060" stroke="#1a1410" stroke-width="1.1"/>
<path d="M280.0 477.5C280.4 476.6 285.0 476.3 286.0 477.0C287.0 477.7 288.4 482.1 288.0 483.0C287.6 483.9 284.0 485.2 283.0 484.5C282.0 483.8 279.6 478.4 280.0 477.5Z" fill="#e8e0d0"/>
<path d="M280.0 477.5C280.5 478.7 282.5 483.3 283.0 484.5" fill="none" stroke="#1a1410" stroke-width="1.2" stroke-linecap="round"/>
<path d="M286.0 477.0C286.4 478.0 288.1 482.0 288.5 483.0" fill="none" stroke="#1a1410" stroke-width="1.2" stroke-linecap="round"/>
<path d="M79.0 483.0L110.0 476.0L150.0 486.5L123.0 500.0Z" fill="#bab894" stroke="#3a3a20" stroke-width="1"/>
<path d="M79.0 483.0C84.5 484.9 114.1 499.6 123.0 500.0C131.9 500.4 146.6 487.9 150.0 486.5C153.4 485.1 153.4 486.5 150.0 488.5C146.6 490.5 131.9 502.9 123.0 502.5C114.1 502.1 84.5 487.4 79.0 485.0C73.5 482.6 73.5 481.1 79.0 483.0Z" fill="#5c5c40"/>
<path d="M108.0 487.0C110.3 486.5 117.7 484.2 122.0 484.0C126.3 483.8 132.0 485.7 134.0 486.0" fill="none" stroke="#2a2a18" stroke-width="1.6" stroke-linecap="round"/>
<path d="M110.0 491.0C112.7 490.7 123.3 489.3 126.0 489.0" fill="none" stroke="#2a2a18" stroke-width="1" stroke-linecap="round"/>
<path d="M159.0 486.0L192.0 497.0L225.0 486.0L225.0 491.5L192.0 505.0L160.0 491.5Z" fill="#6870a4" stroke="#1a1410" stroke-width="1"/>
<path d="M193.0 477.0L225.0 486.0L192.0 497.5L189.0 496.0Z" fill="#98a0c8" stroke="#1a1410" stroke-width="1"/>
<path d="M194.5 479.5L219.0 486.0L201.0 493.0L196.0 491.5Z" fill="#3c4058"/>
<path d="M198.0 482.0C200.7 482.8 211.3 486.2 214.0 487.0" fill="none" stroke="#a0a8c8" stroke-width="0.8" stroke-linecap="round"/>
<path d="M198.0 486.0C199.7 486.6 206.3 488.9 208.0 489.5" fill="none" stroke="#a0a8c8" stroke-width="0.8" stroke-linecap="round"/>
<path d="M143.0 455.0L183.0 460.0L188.0 462.0L193.5 496.0L190.5 497.0L159.0 486.0L150.0 482.5Z" fill="#7078a8" stroke="#1a1410" stroke-width="1.4"/>
<path d="M183.0 460.0C182.7 455.6 186.7 457.5 188.0 462.0C189.3 466.5 193.2 491.6 193.5 496.0C193.8 500.4 191.8 501.5 190.5 497.0C189.2 492.5 183.3 464.4 183.0 460.0Z" fill="#a4acd4"/>
<path d="M157.0 486.0C157.2 486.7 157.8 489.3 158.0 490.0" fill="none" stroke="#1a1410" stroke-width="1.5" stroke-linecap="round"/>
<path d="M237.0 491.0C238.7 490.1 250.5 479.1 254.0 479.0C257.5 478.9 283.6 488.9 286.0 490.0C288.4 491.1 289.1 493.7 288.0 495.0C286.9 496.3 271.9 507.0 270.0 508.0C268.1 509.0 264.9 509.9 262.0 509.0C259.1 508.1 232.3 497.2 230.0 496.0C227.7 494.8 229.5 492.4 230.0 492.0C230.5 491.6 235.3 491.9 237.0 491.0Z" fill="#c6c462" stroke="#2a2a10" stroke-width="1.2"/>
<path d="M237.0 491.0C242.2 492.8 259.8 502.0 268.0 502.0C276.2 502.0 283.0 492.8 286.0 491.0" fill="none" stroke="#2a2a10" stroke-width="1" stroke-linecap="round"/>
<path d="M233.0 493.0C236.5 494.0 257.6 502.8 262.0 504.0C266.4 505.2 267.8 502.6 268.0 503.0C268.2 503.4 268.2 507.9 264.0 507.0C259.8 506.1 237.9 497.8 234.0 496.0C230.1 494.2 229.5 492.0 233.0 493.0Z" fill="#a4a83c"/>
</g>
<g id="arrows" fill="none" stroke-linejoin="miter" stroke-miterlimit="3">
<path d="M270.2 160.2C272.9 160.6 281.1 161.4 286.5 162.6C291.9 163.8 297.4 165.6 302.8 167.5C308.2 169.4 313.8 171.5 319.2 174.1C324.6 176.7 330.1 179.3 335.5 183.0C340.9 186.7 346.4 190.9 351.9 196.1C357.3 201.3 363.6 207.8 368.2 214.1C372.8 220.4 376.9 227.7 379.6 233.7C382.3 239.7 383.7 244.4 384.3 250.0C384.9 255.6 383.3 264.6 383.1 267.5L415.0 275.6L371.9 288.1L338.1 256.3L370.6 263.8C370.8 261.2 372.7 254.2 371.5 248.4C370.3 242.6 366.6 234.9 363.3 228.8C360.0 222.7 356.5 217.2 351.9 211.6C347.3 206.0 340.9 199.9 335.5 195.3C330.1 190.7 324.6 187.2 319.2 183.9C313.8 180.6 308.2 177.9 302.8 175.7C297.4 173.5 291.7 172.0 286.5 170.8C281.3 169.6 274.0 168.7 271.5 168.3Z" stroke="#7ff0e4" stroke-width="3" filter="url(#glow)"/>
<path d="M270.2 160.2C272.9 160.6 281.1 161.4 286.5 162.6C291.9 163.8 297.4 165.6 302.8 167.5C308.2 169.4 313.8 171.5 319.2 174.1C324.6 176.7 330.1 179.3 335.5 183.0C340.9 186.7 346.4 190.9 351.9 196.1C357.3 201.3 363.6 207.8 368.2 214.1C372.8 220.4 376.9 227.7 379.6 233.7C382.3 239.7 383.7 244.4 384.3 250.0C384.9 255.6 383.3 264.6 383.1 267.5L415.0 275.6L371.9 288.1L338.1 256.3L370.6 263.8C370.8 261.2 372.7 254.2 371.5 248.4C370.3 242.6 366.6 234.9 363.3 228.8C360.0 222.7 356.5 217.2 351.9 211.6C347.3 206.0 340.9 199.9 335.5 195.3C330.1 190.7 324.6 187.2 319.2 183.9C313.8 180.6 308.2 177.9 302.8 175.7C297.4 173.5 291.7 172.0 286.5 170.8C281.3 169.6 274.0 168.7 271.5 168.3Z" fill="url(#ga1)" stroke="#40e0d0" stroke-width="1.9"/>
<path d="M416.0 288.3C420.0 288.8 433.1 290.3 440.0 291.4C446.9 292.5 451.7 293.4 457.5 294.9C463.3 296.3 469.2 297.9 475.0 300.1C480.8 302.3 486.7 304.9 492.5 308.0C498.3 311.1 504.2 314.4 510.0 318.5C515.8 322.6 521.7 327.2 527.5 332.5C533.3 337.8 540.2 344.8 545.0 350.0C549.8 355.2 553.5 359.3 556.5 364.0C559.5 368.7 561.7 373.5 563.0 378.0C564.3 382.5 564.8 386.5 564.5 391.0C564.2 395.5 562.0 402.7 561.5 405.0L593.8 413.3L548.8 425.3L517.3 392.3L548.8 400.5C549.0 398.8 550.3 394.1 550.0 390.0C549.7 385.9 548.7 380.7 547.0 376.0C545.3 371.3 543.2 366.8 540.0 362.0C536.8 357.2 532.5 352.6 527.5 347.4C522.5 342.2 515.8 335.6 510.0 330.8C504.2 326.0 498.3 322.0 492.5 318.5C486.7 315.0 480.8 312.4 475.0 309.8C469.2 307.2 463.3 304.9 457.5 302.8C451.7 300.8 446.8 298.7 440.0 297.5C433.2 296.3 420.8 296.1 417.0 295.8Z" stroke="#7ff0e4" stroke-width="3" filter="url(#glow)"/>
<path d="M416.0 288.3C420.0 288.8 433.1 290.3 440.0 291.4C446.9 292.5 451.7 293.4 457.5 294.9C463.3 296.3 469.2 297.9 475.0 300.1C480.8 302.3 486.7 304.9 492.5 308.0C498.3 311.1 504.2 314.4 510.0 318.5C515.8 322.6 521.7 327.2 527.5 332.5C533.3 337.8 540.2 344.8 545.0 350.0C549.8 355.2 553.5 359.3 556.5 364.0C559.5 368.7 561.7 373.5 563.0 378.0C564.3 382.5 564.8 386.5 564.5 391.0C564.2 395.5 562.0 402.7 561.5 405.0L593.8 413.3L548.8 425.3L517.3 392.3L548.8 400.5C549.0 398.8 550.3 394.1 550.0 390.0C549.7 385.9 548.7 380.7 547.0 376.0C545.3 371.3 543.2 366.8 540.0 362.0C536.8 357.2 532.5 352.6 527.5 347.4C522.5 342.2 515.8 335.6 510.0 330.8C504.2 326.0 498.3 322.0 492.5 318.5C486.7 315.0 480.8 312.4 475.0 309.8C469.2 307.2 463.3 304.9 457.5 302.8C451.7 300.8 446.8 298.7 440.0 297.5C433.2 296.3 420.8 296.1 417.0 295.8Z" fill="url(#ga2)" stroke="#40e0d0" stroke-width="1.9"/>
</g>
</svg>

<div class="t red" style="left:155px;top:167px;">断带率 = 2.16</div>
<div class="t red" style="left:294px;top:289px;">断带率 = 1.0</div>
<div class="t red" style="left:453px;top:429px;">断带率<span style="letter-spacing:-1px"> ≤ </span>0.5</div>
<div class="t blk" style="left:343px;top:167px;">降低1.16次/千吨</div>
<div class="t blk" style="left:536px;top:313px;">降低0.5次/千吨</div>
<div class="t en" style="left:176px;top:219.5px;transform:scaleX(0.965)">Base Line</div>
<div class="t en" style="left:333px;top:352.5px;">Goal</div>
<div class="t en" style="left:465px;top:480px;transform:scaleX(1.04)">Entitlement</div>

<div id="note"></div>
<div id="notetxt">在现有的硅含量<br>为<i>0.3-0.88%</i>的<br>前提下，按照该<br>目标来控制断带<br>率</div>
<svg id="wm" width="800" height="600" viewBox="0 0 800 600" style="pointer-events:none">
<defs><linearGradient id="gw" x1="0" y1="0" x2="1" y2="0"><stop offset="0" stop-color="#6a62a8"/><stop offset="0.5" stop-color="#3f7fba"/><stop offset="1" stop-color="#6a66b0"/></linearGradient></defs>
<g opacity="0.9">
<circle cx="356.3" cy="300.2" r="18.2" fill="#ffffff" fill-opacity="0.78" stroke="#d4d4ea" stroke-width="1"/>
<circle cx="356.3" cy="300.2" r="15.4" fill="none" stroke="#6868a4" stroke-width="1.1"/>
<path d="M341.6 311.500A18.5 18.500 0 0 0 371 311.500" fill="none" stroke="#7474aa" stroke-width="2.6"/>
<path d="M341.500 304L351 301.500L355 296.500L358.500 300.500L364 292.500L371.500 298" fill="none" stroke="#3c3c80" stroke-width="1.1"/>
</g>
<g font-family="'Liberation Sans','Noto Sans CJK SC',sans-serif">
<text x="380 402 423.500 445" y="299.800" font-size="15.500" fill="url(#gw)" stroke="url(#gw)" stroke-width="0.350" fill-opacity="0.92">求正改善</text>
<text x="380" y="308" font-size="6.400" font-weight="bold" fill="#34347a" textLength="81" lengthAdjust="spacing">Qiu Zheng kaizen</text>
<rect x="379.500" y="309.400" width="84" height="0.800" fill="#9aa6a0"/>
<g transform="translate(379,316.400) scale(0.5)"><text x="0" y="0" font-size="11" fill="#5c9c90" textLength="169" lengthAdjust="spacing">精益运营整体解决方案服务商</text></g>
</g>
</svg>
</body>
</html>
